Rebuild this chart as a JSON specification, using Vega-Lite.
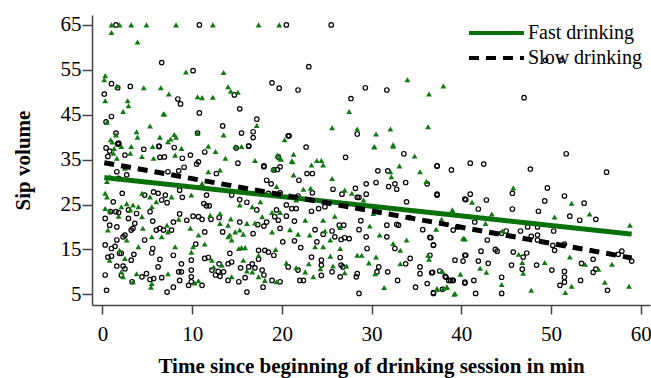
{
  "$schema": "https://vega.github.io/schema/vega-lite/v6.json",
  "width": 558,
  "height": 290,
  "autosize": {"type": "none"},
  "padding": {"left": 92, "top": 15, "right": 1, "bottom": 73},
  "background": "white",
  "config": {
    "view": {"stroke": null},
    "font": "Liberation Serif",
    "axis": {
      "grid": false,
      "labelFont": "Liberation Serif",
      "labelFontSize": 21,
      "labelColor": "black",
      "titleFont": "Liberation Serif",
      "titleFontSize": 21,
      "titleFontWeight": "bold",
      "titleColor": "black",
      "domainColor": "#444444",
      "tickColor": "#444444",
      "domainWidth": 1.5,
      "tickWidth": 1.5,
      "labelFlush": false,
      "labelOverlap": false
    },
    "legend": {
      "orient": "top-right",
      "offset": 8,
      "symbolType": "stroke",
      "symbolSize": 3025,
      "symbolStrokeWidth": 4,
      "clipHeight": 20,
      "labelFont": "Liberation Serif",
      "labelFontSize": 20,
      "labelColor": "black",
      "labelOffset": 2,
      "rowPadding": 5,
      "padding": 0
    }
  },
  "datasets": {
    "fast": [
      {"t":1.0,"v":65},{"t":1.9,"v":65},{"t":3.2,"v":65},{"t":4.9,"v":65},{"t":8.2,"v":65},{"t":12.3,"v":65},{"t":17.4,"v":65},{"t":19.7,"v":65},
      {"t":1.0,"v":63.3},{"t":3.9,"v":61.2},{"t":9.3,"v":54.5},{"t":13.5,"v":54.4},{"t":0.3,"v":53.7},{"t":0.2,"v":52.8},{"t":1.6,"v":51.4},{"t":4.6,"v":51.0},
      {"t":6.5,"v":51.0},{"t":7.4,"v":49.6},{"t":10.6,"v":49.0},{"t":11.1,"v":48.8},{"t":12.3,"v":48.9},{"t":14.0,"v":51.2},{"t":14.3,"v":50.2},{"t":15.1,"v":50.0},
      {"t":0.3,"v":48.1},{"t":2.8,"v":48.1},{"t":2.9,"v":47.0},{"t":2.3,"v":45.7},{"t":6.8,"v":45.2},{"t":6.9,"v":45.1},{"t":0.5,"v":43.3},{"t":5.3,"v":42.5},
      {"t":17.2,"v":42.6},{"t":3.8,"v":41.2},{"t":1.5,"v":40.5},{"t":10.6,"v":40.9},{"t":13.5,"v":40.5},{"t":7.6,"v":39.6},{"t":8.2,"v":40.0},{"t":0.9,"v":39.4},
      {"t":34.0,"v":52.8},{"t":38.0,"v":51.4},{"t":36.4,"v":49.6},{"t":27.5,"v":45.7},{"t":25.6,"v":42.1},{"t":28.4,"v":41.8},{"t":30.5,"v":40.7},{"t":32.1,"v":41.8},
      {"t":36.3,"v":42.3},{"t":20.3,"v":39.4},{"t":45.8,"v":28.7},{"t":52.3,"v":25.3},{"t":54.3,"v":22.9},{"t":50.4,"v":22.2},{"t":43.4,"v":22.9},{"t":41.2,"v":25.5},
      {"t":42.7,"v":20.8},{"t":58.8,"v":20.4},{"t":44.6,"v":19.1},{"t":46.4,"v":13.9},{"t":52.1,"v":13.3},{"t":56.8,"v":11.7},{"t":46.8,"v":12.1},{"t":49.3,"v":12.1},
      {"t":53.8,"v":11.7},{"t":42.1,"v":10.8},{"t":42.8,"v":9.9},{"t":46.9,"v":9.7},{"t":55.3,"v":10.6},{"t":44.5,"v":7.2},{"t":56.0,"v":7.7},{"t":58.7,"v":6.8},
      {"t":52.3,"v":6.8},{"t":51.6,"v":5.4},{"t":47.8,"v":5.9},{"t":40.4,"v":17.3},{"t":39.1,"v":23.3},{"t":37.2,"v":19.5},{"t":40.2,"v":17.5},{"t":37.9,"v":10.1},
      {"t":39.9,"v":9.5},{"t":37.3,"v":6.1},{"t":38.0,"v":6.3},{"t":38.4,"v":6.6},{"t":39.2,"v":5.0},
      {"t":1.3,"v":37.5},{"t":2.1,"v":37.9},{"t":3.2,"v":37.9},{"t":5.6,"v":37.9},{"t":7.3,"v":39.0},{"t":8.8,"v":37.5},{"t":1.2,"v":36.4},{"t":1.6,"v":35.3},
      {"t":3.1,"v":36.4},{"t":5.7,"v":35.3},{"t":8.1,"v":36.0},{"t":11.8,"v":38.0},{"t":12.6,"v":36.8},{"t":14.8,"v":37.9},{"t":15.5,"v":37.9},{"t":17.0,"v":34.8},
      {"t":13.7,"v":35.3},{"t":19.5,"v":36.0},{"t":13.1,"v":32.7},{"t":11.8,"v":32.3},{"t":4.4,"v":35.7},{"t":2.5,"v":33.1},{"t":0.8,"v":31.2},{"t":0.5,"v":30.1},
      {"t":0.3,"v":27.5},{"t":0.5,"v":26.7},{"t":0.3,"v":24.1},{"t":0.8,"v":23.6},{"t":2.1,"v":24.5},{"t":2.7,"v":25.2},{"t":3.4,"v":24.9},{"t":4.0,"v":24.5},
      {"t":4.4,"v":27.5},{"t":5.3,"v":26.7},{"t":6.0,"v":25.6},{"t":5.5,"v":24.5},{"t":7.7,"v":26.7},{"t":9.9,"v":27.1},{"t":11.1,"v":29.7},{"t":15.3,"v":24.9},
      {"t":16.7,"v":24.5},{"t":17.6,"v":25.6},{"t":19.4,"v":29.0},{"t":18.9,"v":23.2},{"t":17.8,"v":22.3},{"t":18.9,"v":18.9},{"t":17.0,"v":20.9},{"t":16.1,"v":20.8},
      {"t":14.3,"v":21.8},{"t":14.0,"v":20.4},{"t":13.1,"v":20.8},{"t":14.8,"v":18.9},{"t":15.3,"v":19.3},{"t":15.7,"v":18.4},{"t":0.6,"v":19.3},{"t":1.8,"v":22.4},
      {"t":3.1,"v":23.8},{"t":4.4,"v":22.3},{"t":4.5,"v":19.7},{"t":2.7,"v":17.1},{"t":1.9,"v":14.8},{"t":2.5,"v":13.0},{"t":5.5,"v":17.8},{"t":7.2,"v":20.4},
      {"t":8.5,"v":21.7},{"t":6.6,"v":17.8},{"t":7.3,"v":18.9},{"t":9.8,"v":19.7},{"t":12.0,"v":22.6},{"t":13.1,"v":23.0},{"t":14.0,"v":17.8},{"t":14.2,"v":18.2},
      {"t":14.4,"v":17.1},{"t":10.7,"v":18.2},{"t":11.4,"v":16.2},{"t":10.1,"v":15.6},{"t":9.9,"v":14.4},{"t":8.1,"v":15.6},{"t":4.0,"v":15.6},{"t":0.8,"v":12.6},
      {"t":2.1,"v":10.0},{"t":2.3,"v":8.9},{"t":3.8,"v":9.6},{"t":5.5,"v":7.4},{"t":3.4,"v":7.8},{"t":5.4,"v":6.6},{"t":10.3,"v":7.5},{"t":10.7,"v":8.0},
      {"t":13.3,"v":11.5},{"t":14.4,"v":8.9},{"t":15.7,"v":12.6},{"t":16.1,"v":10.2},{"t":16.7,"v":10.0},{"t":17.4,"v":8.9},{"t":18.1,"v":8.1},{"t":19.4,"v":7.8},
      {"t":17.4,"v":13.7},{"t":19.3,"v":15.0},{"t":15.9,"v":15.4},{"t":15.2,"v":15.2},{"t":15.5,"v":15.4},{"t":12.2,"v":12.6},{"t":7.3,"v":9.6},{"t":12.4,"v":11.1},
      {"t":1.1,"v":38.9},{"t":3.9,"v":40.0},{"t":6.4,"v":40.0},{"t":8.0,"v":40.6},
      {"t":21.3,"v":36.2},{"t":21.2,"v":34.5},{"t":19.8,"v":35.3},{"t":23.3,"v":33.8},{"t":23.9,"v":34.8},{"t":24.4,"v":34.8},{"t":24.6,"v":33.8},{"t":21.3,"v":31.6},
      {"t":25.6,"v":30.8},{"t":30.3,"v":37.9},{"t":32.4,"v":38.3},{"t":34.8,"v":35.8},{"t":33.1,"v":33.6},{"t":32.1,"v":32.3},{"t":32.2,"v":31.2},{"t":35.4,"v":32.3},
      {"t":36.1,"v":30.1},{"t":27.0,"v":28.2},{"t":27.8,"v":27.5},{"t":29.1,"v":26.0},{"t":23.2,"v":28.6},{"t":22.4,"v":28.4},{"t":21.6,"v":26.0},{"t":39.0,"v":23.8},
      {"t":37.8,"v":21.7},{"t":19.8,"v":23.2},{"t":22.6,"v":21.5},{"t":24.6,"v":21.5},{"t":25.9,"v":22.4},{"t":29.8,"v":20.2},{"t":30.2,"v":23.0},{"t":33.9,"v":17.1},
      {"t":40.3,"v":17.4},{"t":20.9,"v":19.4},{"t":21.8,"v":18.4},{"t":23.1,"v":18.2},{"t":23.7,"v":15.6},{"t":24.8,"v":19.1},{"t":25.4,"v":17.1},{"t":26.5,"v":19.9},
      {"t":26.5,"v":15.2},{"t":30.9,"v":18.2},{"t":32.4,"v":16.3},{"t":33.2,"v":14.8},{"t":36.3,"v":13.7},{"t":36.4,"v":12.8},{"t":33.2,"v":11.8},{"t":37.8,"v":10.1},
      {"t":38.4,"v":6.6},{"t":37.3,"v":6.3},{"t":39.3,"v":5.2},{"t":31.4,"v":6.5},{"t":30.4,"v":9.6},{"t":28.9,"v":13.7},{"t":28.4,"v":13.7},{"t":30.5,"v":13.3},
      {"t":29.7,"v":12.0},{"t":27.2,"v":11.3},{"t":25.7,"v":11.3},{"t":27.0,"v":9.8},{"t":24.3,"v":10.7},{"t":23.5,"v":8.9},{"t":21.6,"v":10.9},{"t":20.5,"v":12.0},
      {"t":24.6,"v":15.6},{"t":22.6,"v":10.0},{"t":23.0,"v":11.8},{"t":25.4,"v":13.5},
      {"t":32.4,"v":38.0},{"t":30.3,"v":37.8},{"t":19.9,"v":35.1},{"t":19.0,"v":32.9},{"t":21.1,"v":34.7}
    ],
    "slow": [
      {"t":1.5,"v":65},{"t":10.8,"v":65},{"t":20.5,"v":65},{"t":25.5,"v":65},
      {"t":6.6,"v":56.6},{"t":10.1,"v":54.8},{"t":1.0,"v":51.9},{"t":1.7,"v":51.0},{"t":3.1,"v":51.3},{"t":8.4,"v":48.5},{"t":8.7,"v":47.4},{"t":14.7,"v":49.4},
      {"t":18.9,"v":52.1},{"t":19.7,"v":50.9},{"t":0.2,"v":49.6},{"t":10.8,"v":45.4},{"t":15.3,"v":46.3},{"t":1.0,"v":44.6},{"t":0.4,"v":43.4},{"t":13.4,"v":42.5},
      {"t":17.2,"v":44.0},{"t":1.5,"v":40.9},{"t":10.6,"v":40.9},{"t":15.5,"v":40.9},{"t":16.8,"v":41.2},{"t":16.8,"v":39.9},{"t":1.8,"v":38.7},
      {"t":23.0,"v":55.7},{"t":21.8,"v":50.5},{"t":29.3,"v":51.0},{"t":31.7,"v":50.5},{"t":27.7,"v":48.6},{"t":28.4,"v":40.7},{"t":20.8,"v":40.3},{"t":47.0,"v":48.8},
      {"t":49.4,"v":57.1},{"t":51.1,"v":57.1},
      {"t":51.7,"v":36.3},{"t":56.2,"v":32.2},{"t":37.3,"v":33.6},{"t":38.9,"v":32.7},{"t":41.0,"v":34.2},{"t":42.5,"v":34.0},{"t":47.7,"v":32.9},{"t":49.6,"v":28.7},
      {"t":45.7,"v":27.5},{"t":51.5,"v":26.9},{"t":53.7,"v":25.3},{"t":49.3,"v":25.8},{"t":41.0,"v":27.3},{"t":40.4,"v":26.2},{"t":41.9,"v":24.0},{"t":42.8,"v":26.0},
      {"t":45.7,"v":24.0},{"t":48.6,"v":23.5},{"t":55.0,"v":21.7},{"t":52.1,"v":22.4},{"t":53.2,"v":21.5},{"t":41.5,"v":21.1},{"t":47.4,"v":20.0},{"t":48.5,"v":20.0},
      {"t":50.3,"v":19.1},{"t":44.5,"v":18.6},{"t":45.0,"v":19.1},{"t":46.6,"v":19.1},{"t":47.8,"v":17.9},{"t":48.5,"v":18.2},{"t":42.9,"v":17.1},{"t":50.2,"v":15.9},
      {"t":50.4,"v":14.8},{"t":57.9,"v":14.6},{"t":57.5,"v":13.9},{"t":59.0,"v":12.4},{"t":43.8,"v":15.0},{"t":44.0,"v":14.6},{"t":42.2,"v":14.6},{"t":40.4,"v":13.7},
      {"t":45.8,"v":14.4},{"t":47.3,"v":14.2},{"t":46.9,"v":13.3},{"t":54.7,"v":12.8},{"t":41.9,"v":12.4},{"t":43.0,"v":11.9},{"t":48.4,"v":11.5},{"t":53.4,"v":11.9},
      {"t":45.6,"v":11.5},{"t":46.8,"v":10.6},{"t":50.1,"v":10.4},{"t":51.5,"v":10.1},{"t":51.5,"v":8.8},{"t":51.5,"v":7.7},{"t":54.7,"v":9.9},{"t":55.0,"v":10.6},
      {"t":44.5,"v":8.8},{"t":40.4,"v":7.5},{"t":41.4,"v":8.1},{"t":53.3,"v":8.1},{"t":56.3,"v":5.9},{"t":51.0,"v":7.0},{"t":41.6,"v":5.2},{"t":44.5,"v":5.2},
      {"t":48.5,"v":17.1},{"t":51.5,"v":16.2},
      {"t":37.3,"v":27.1},{"t":36.9,"v":15.9},{"t":36.5,"v":17.7},{"t":39.1,"v":19.3},{"t":39.6,"v":20.0},{"t":36.5,"v":13.7},{"t":36.8,"v":9.9},{"t":38.3,"v":8.8},
      {"t":38.8,"v":8.1},{"t":39.1,"v":8.1},{"t":40.2,"v":12.4},{"t":36.9,"v":5.4},
      {"t":0.4,"v":37.6},{"t":0.8,"v":36.9},{"t":1.7,"v":38.5},{"t":4.6,"v":37.3},{"t":6.3,"v":38.0},{"t":6.9,"v":35.6},{"t":11.4,"v":36.7},{"t":14.9,"v":37.6},
      {"t":16.3,"v":38.0},{"t":18.0,"v":33.6},{"t":19.6,"v":35.6},{"t":19.8,"v":33.4},{"t":20.7,"v":40.3},{"t":22.7,"v":37.8},
      {"t":1.8,"v":38.5},{"t":6.3,"v":37.9},{"t":8.0,"v":37.7},{"t":0.6,"v":35.7},{"t":2.5,"v":36.0},{"t":6.4,"v":35.5},{"t":8.9,"v":35.3},{"t":9.8,"v":36.0},
      {"t":10.7,"v":34.5},{"t":10.5,"v":34.0},{"t":16.3,"v":38.0},{"t":15.1,"v":34.2},{"t":18.0,"v":33.4},{"t":19.1,"v":32.7},{"t":19.5,"v":32.8},{"t":12.7,"v":31.9},
      {"t":9.1,"v":33.3},{"t":8.5,"v":32.5},{"t":7.3,"v":32.3},{"t":1.6,"v":32.3},{"t":2.7,"v":31.6},{"t":1.8,"v":30.8},{"t":2.2,"v":27.5},{"t":1.2,"v":25.6},
      {"t":1.5,"v":23.4},{"t":1.8,"v":23.2},{"t":2.9,"v":23.8},{"t":4.7,"v":27.1},{"t":5.7,"v":27.8},{"t":6.2,"v":27.5},{"t":7.0,"v":27.1},{"t":6.6,"v":26.0},
      {"t":7.2,"v":25.4},{"t":8.6,"v":28.2},{"t":8.9,"v":26.6},{"t":11.6,"v":27.1},{"t":11.3,"v":25.2},{"t":11.6,"v":24.7},{"t":11.9,"v":24.7},{"t":14.4,"v":27.1},
      {"t":15.3,"v":26.1},{"t":16.1,"v":25.5},{"t":17.2,"v":23.8},{"t":18.3,"v":30.4},{"t":18.8,"v":29.6},{"t":18.5,"v":27.5},{"t":19.2,"v":22.3},{"t":19.4,"v":23.8},
      {"t":18.3,"v":21.1},{"t":18.0,"v":20.2},{"t":19.6,"v":21.5},{"t":17.3,"v":20.5},{"t":15.3,"v":21.1},{"t":13.0,"v":22.1},{"t":16.8,"v":18.5},{"t":0.9,"v":23.4},
      {"t":0.3,"v":21.9},{"t":0.8,"v":20.4},{"t":1.6,"v":20.0},{"t":2.9,"v":21.9},{"t":3.8,"v":23.0},{"t":5.3,"v":23.4},{"t":5.6,"v":21.3},{"t":3.4,"v":19.7},
      {"t":3.6,"v":20.8},{"t":3.2,"v":19.3},{"t":2.5,"v":18.2},{"t":2.3,"v":17.8},{"t":1.6,"v":17.1},{"t":1.4,"v":15.7},{"t":0.3,"v":16.0},{"t":1.0,"v":15.2},
      {"t":2.1,"v":14.1},{"t":3.2,"v":12.6},{"t":4.7,"v":17.1},{"t":6.0,"v":19.3},{"t":6.4,"v":19.7},{"t":7.7,"v":19.3},{"t":8.6,"v":22.9},{"t":7.9,"v":21.1},
      {"t":6.8,"v":19.3},{"t":9.4,"v":21.5},{"t":10.1,"v":22.4},{"t":10.7,"v":22.3},{"t":11.1,"v":21.7},{"t":12.1,"v":21.7},{"t":13.4,"v":18.9},{"t":11.4,"v":18.9},
      {"t":10.4,"v":16.2},{"t":11.4,"v":13.0},{"t":11.8,"v":13.2},{"t":9.9,"v":12.6},{"t":8.8,"v":11.8},{"t":7.9,"v":13.7},{"t":6.4,"v":12.8},{"t":6.2,"v":11.1},
      {"t":5.6,"v":15.2},{"t":5.5,"v":14.2},{"t":3.5,"v":13.9},{"t":0.6,"v":13.3},{"t":1.0,"v":13.5},{"t":1.9,"v":14.1},{"t":1.6,"v":11.3},{"t":2.3,"v":11.3},
      {"t":2.5,"v":10.7},{"t":0.3,"v":9.3},{"t":0.45,"v":5.9},{"t":2.1,"v":9.3},{"t":4.4,"v":8.9},{"t":4.9,"v":9.6},{"t":5.3,"v":8.3},{"t":5.7,"v":8.5},
      {"t":3.3,"v":7.8},{"t":6.6,"v":8.7},{"t":7.2,"v":5.5},{"t":7.9,"v":6.6},{"t":8.6,"v":8.1},{"t":8.8,"v":10.0},{"t":9.6,"v":7.0},{"t":9.9,"v":8.9},
      {"t":9.9,"v":7.8},{"t":11.1,"v":7.0},{"t":12.2,"v":10.4},{"t":12.6,"v":9.3},{"t":12.9,"v":10.1},{"t":13.1,"v":9.0},{"t":13.5,"v":10.0},{"t":14.0,"v":8.1},
      {"t":14.4,"v":12.2},{"t":15.4,"v":10.9},{"t":15.9,"v":8.7},{"t":15.2,"v":7.8},{"t":16.3,"v":11.1},{"t":16.7,"v":11.8},{"t":17.0,"v":10.9},{"t":17.8,"v":10.4},
      {"t":18.0,"v":9.3},{"t":17.9,"v":6.6},{"t":18.9,"v":8.1},{"t":16.1,"v":5.5},{"t":17.4,"v":12.8},{"t":18.1,"v":14.8},{"t":19.1,"v":13.7},{"t":18.5,"v":14.4},
      {"t":17.4,"v":14.8},{"t":14.2,"v":14.1},{"t":14.0,"v":11.8},{"t":13.0,"v":11.8},{"t":8.5,"v":10.0},{"t":9.9,"v":10.4},
      {"t":27.1,"v":35.5},{"t":33.6,"v":36.3},{"t":30.7,"v":32.5},{"t":31.8,"v":32.5},{"t":37.3,"v":33.6},{"t":22.8,"v":31.9},{"t":23.4,"v":31.9},{"t":21.9,"v":30.4},
      {"t":36.2,"v":29.6},{"t":30.5,"v":29.9},{"t":29.4,"v":29.6},{"t":31.9,"v":29.0},{"t":32.6,"v":29.6},{"t":32.8,"v":28.4},{"t":33.8,"v":29.9},{"t":25.7,"v":28.4},
      {"t":26.7,"v":27.3},{"t":28.2,"v":28.6},{"t":28.4,"v":26.6},{"t":28.6,"v":26.6},{"t":29.4,"v":27.3},{"t":23.4,"v":27.6},{"t":21.8,"v":26.9},{"t":19.8,"v":27.6},
      {"t":37.3,"v":27.3},{"t":33.9,"v":25.6},{"t":40.5,"v":26.1},{"t":20.5,"v":24.9},{"t":21.1,"v":24.1},{"t":21.6,"v":24.1},{"t":20.5,"v":22.4},{"t":21.4,"v":21.3},
      {"t":23.3,"v":23.5},{"t":24.1,"v":24.1},{"t":24.8,"v":24.5},{"t":26.4,"v":20.4},{"t":26.9,"v":20.4},{"t":28.8,"v":21.4},{"t":28.6,"v":19.4},{"t":31.7,"v":20.4},
      {"t":32.8,"v":20.6},{"t":33.0,"v":20.4},{"t":34.2,"v":22.1},{"t":35.7,"v":19.4},{"t":36.6,"v":17.6},{"t":36.9,"v":16.0},{"t":40.5,"v":13.7},{"t":19.8,"v":19.7},
      {"t":20.1,"v":16.7},{"t":22.1,"v":15.4},{"t":21.4,"v":16.9},{"t":23.7,"v":19.4},{"t":23.9,"v":16.7},{"t":24.6,"v":18.4},{"t":25.6,"v":19.1},{"t":25.9,"v":17.8},
      {"t":26.6,"v":17.2},{"t":27.0,"v":17.6},{"t":27.5,"v":17.4},{"t":29.5,"v":15.2},{"t":29.4,"v":17.8},{"t":31.7,"v":17.8},{"t":32.6,"v":15.2},{"t":34.3,"v":13.0},
      {"t":35.4,"v":11.1},{"t":33.8,"v":11.8},{"t":31.8,"v":10.0},{"t":39.3,"v":12.6},{"t":37.6,"v":10.2},{"t":38.2,"v":9.0},{"t":36.7,"v":9.8},{"t":35.4,"v":9.6},
      {"t":38.6,"v":8.1},{"t":39.0,"v":8.1},{"t":37.9,"v":6.1},{"t":36.2,"v":7.4},{"t":34.9,"v":6.6},{"t":36.9,"v":5.2},{"t":40.4,"v":7.7},{"t":32.9,"v":8.1},
      {"t":28.6,"v":5.2},{"t":30.6,"v":10.0},{"t":28.4,"v":9.6},{"t":28.3,"v":8.9},{"t":30.8,"v":11.1},{"t":26.5,"v":13.2},{"t":26.6,"v":11.5},{"t":26.8,"v":11.1},
      {"t":25.6,"v":10.0},{"t":26.5,"v":8.9},{"t":24.4,"v":12.6},{"t":24.4,"v":11.5},{"t":24.4,"v":9.2},{"t":22.4,"v":8.1},{"t":21.8,"v":10.4},{"t":20.7,"v":11.1},
      {"t":23.3,"v":13.3},{"t":22.0,"v":8.1},{"t":19.8,"v":7.8}
    ],
    "fits": [
      {"group":"Fast drinking","t":0.2,"v":31.0},
      {"group":"Fast drinking","t":59.0,"v":18.4},
      {"group":"Slow drinking","t":0.2,"v":34.3},
      {"group":"Slow drinking","t":59.0,"v":13.1}
    ]
  },
  "layer": [
    {
      "data": {"name": "slow"},
      "mark": {"type": "point", "shape": "circle", "filled": false, "stroke": "black", "strokeWidth": 1.2, "size": 20, "opacity": 1},
      "encoding": {
        "x": {
          "field": "t", "type": "quantitative",
          "scale": {"domain": [-1.17, 61.04], "nice": false, "zero": false},
          "axis": {
            "values": [0, 10, 20, 30, 40, 50, 60],
            "title": "Time since beginning of drinking session in min",
            "labelFont": "Liberation Serif", "labelFontSize": 21,
            "titleFont": "Liberation Serif", "titleFontSize": 21,
            "tickSize": 9, "labelPadding": 9, "titlePadding": 11
          }
        },
        "y": {
          "field": "v", "type": "quantitative",
          "scale": {"domain": [2.62, 67.2], "nice": false, "zero": false},
          "axis": {
            "values": [5, 15, 25, 35, 45, 55, 65],
            "title": "Sip volume",
            "labelFont": "Liberation Serif", "labelFontSize": 21,
            "titleFont": "Liberation Serif", "titleFontSize": 21,
            "tickSize": 10, "labelPadding": 1, "titlePadding": 27
          }
        }
      }
    },
    {
      "data": {"name": "fast"},
      "mark": {"type": "point", "shape": "triangle-up", "filled": true, "color": "#107a10", "size": 34, "opacity": 1},
      "encoding": {
        "x": {"field": "t", "type": "quantitative"},
        "y": {"field": "v", "type": "quantitative"}
      }
    },
    {
      "data": {"name": "fits"},
      "mark": {"type": "line", "strokeWidth": 5, "strokeCap": "butt"},
      "encoding": {
        "x": {"field": "t", "type": "quantitative"},
        "y": {"field": "v", "type": "quantitative"},
        "color": {
          "field": "group", "type": "nominal",
          "scale": {"domain": ["Fast drinking", "Slow drinking"], "range": ["#0a700a", "#000000"]},
          "legend": {"title": null}
        },
        "strokeDash": {
          "field": "group", "type": "nominal",
          "scale": {"domain": ["Fast drinking", "Slow drinking"], "range": [[1, 0], [10, 7]]},
          "legend": {"title": null}
        }
      }
    }
  ]
}
